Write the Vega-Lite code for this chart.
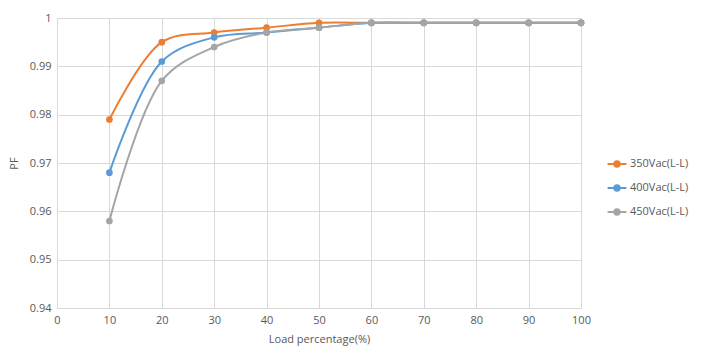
{
  "$schema": "https://vega.github.io/schema/vega-lite/v6.json",
  "width": 524,
  "height": 290,
  "autosize": "none",
  "padding": {"left": 57, "top": 18, "right": 125, "bottom": 52},
  "background": "white",
  "config": {
    "view": {"stroke": null},
    "font": "Open Sans",
    "axis": {"gridColor": "#D9D9D9", "domainColor": "#D9D9D9", "tickColor": "#D9D9D9", "labelColor": "#595959", "titleColor": "#595959", "labelFontSize": 11, "titleFontSize": 11, "titleFontWeight": "normal", "ticks": false, "labelPadding": 6, "labelFlush": false}
  },
  "data": {
    "values": [
      {"load": 10, "pf": 0.979, "series": "350Vac(L-L)"},
      {"load": 20, "pf": 0.995, "series": "350Vac(L-L)"},
      {"load": 30, "pf": 0.997, "series": "350Vac(L-L)"},
      {"load": 40, "pf": 0.998, "series": "350Vac(L-L)"},
      {"load": 50, "pf": 0.999, "series": "350Vac(L-L)"},
      {"load": 60, "pf": 0.999, "series": "350Vac(L-L)"},
      {"load": 70, "pf": 0.999, "series": "350Vac(L-L)"},
      {"load": 80, "pf": 0.999, "series": "350Vac(L-L)"},
      {"load": 90, "pf": 0.999, "series": "350Vac(L-L)"},
      {"load": 100, "pf": 0.999, "series": "350Vac(L-L)"},
      {"load": 10, "pf": 0.968, "series": "400Vac(L-L)"},
      {"load": 20, "pf": 0.991, "series": "400Vac(L-L)"},
      {"load": 30, "pf": 0.996, "series": "400Vac(L-L)"},
      {"load": 40, "pf": 0.997, "series": "400Vac(L-L)"},
      {"load": 50, "pf": 0.998, "series": "400Vac(L-L)"},
      {"load": 60, "pf": 0.999, "series": "400Vac(L-L)"},
      {"load": 70, "pf": 0.999, "series": "400Vac(L-L)"},
      {"load": 80, "pf": 0.999, "series": "400Vac(L-L)"},
      {"load": 90, "pf": 0.999, "series": "400Vac(L-L)"},
      {"load": 100, "pf": 0.999, "series": "400Vac(L-L)"},
      {"load": 10, "pf": 0.958, "series": "450Vac(L-L)"},
      {"load": 20, "pf": 0.987, "series": "450Vac(L-L)"},
      {"load": 30, "pf": 0.994, "series": "450Vac(L-L)"},
      {"load": 40, "pf": 0.997, "series": "450Vac(L-L)"},
      {"load": 50, "pf": 0.998, "series": "450Vac(L-L)"},
      {"load": 60, "pf": 0.999, "series": "450Vac(L-L)"},
      {"load": 70, "pf": 0.999, "series": "450Vac(L-L)"},
      {"load": 80, "pf": 0.999, "series": "450Vac(L-L)"},
      {"load": 90, "pf": 0.999, "series": "450Vac(L-L)"},
      {"load": 100, "pf": 0.999, "series": "450Vac(L-L)"}
    ]
  },
  "encoding": {
    "x": {"field": "load", "type": "quantitative", "scale": {"domain": [0, 100], "nice": false}, "axis": {"values": [0,10,20,30,40,50,60,70,80,90,100], "title": "Load percentage(%)", "titlePadding": 8}},
    "y": {"field": "pf", "type": "quantitative", "scale": {"domain": [0.94, 1], "nice": false, "zero": false}, "axis": {"values": [0.94,0.95,0.96,0.97,0.98,0.99,1], "labelExpr": "datum.value >= 0.9999 ? '1' : format(datum.value, '.2f')", "domain": false, "title": "PF", "titlePadding": 10}},
    "color": {"field": "series", "type": "nominal", "scale": {"domain": ["350Vac(L-L)","400Vac(L-L)","450Vac(L-L)"], "range": ["#ED7D31","#5B9BD5","#A5A5A5"]},
      "legend": {"title": null, "orient": "none", "legendX": 552, "legendY": 138, "symbolType": "M-1.4,0H1.4M0.4,0A0.4,0.4 0 1,1 -0.4,0A0.4,0.4 0 1,1 0.4,0", "symbolSize": 180, "symbolStrokeWidth": 2, "labelFontSize": 11, "labelColor": "#595959", "rowPadding": 9, "labelOffset": 5}}
  },
  "layer": [
    {"mark": {"type": "line", "interpolate": "catmull-rom", "strokeWidth": 2}},
    {"mark": {"type": "point", "filled": true, "size": 45, "opacity": 1}}
  ]
}
